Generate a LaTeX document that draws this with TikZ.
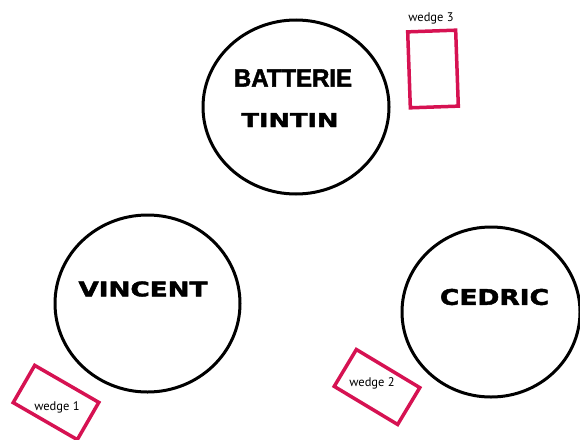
\documentclass[tikz,border=0pt]{standalone}
\usepackage{fontspec}
\usepackage{graphicx}
\usetikzlibrary{shapes.geometric}
\newfontfamily\wide{DejaVu Sans}[BoldFeatures={FakeBold=2}]
\newfontfamily\narrowb{Liberation Sans}[BoldFeatures={FakeBold=2}]
\newfontfamily\lbl{PT Sans}
\definecolor{wedgered}{RGB}{214,18,82}
\tikzset{
  ring/.style={draw=black, line width=3pt, ellipse, inner sep=0pt},
  wedgebox/.style={draw=wedgered, line width=3.5pt, rectangle, inner sep=0pt},
  nametext/.style={inner sep=0pt, text=black},
  wlabel/.style={inner sep=0pt, font=\lbl\fontsize{12.5}{14}\selectfont, text=black}
}
\begin{document}
\begin{tikzpicture}[x=1pt, y=-1pt]
\useasboundingbox[fill=white] (0,0) rectangle (580,439);
% circles
\node[ring, minimum width=186pt, minimum height=174pt] (bat) at (296,107) {};
\node[ring, minimum width=185pt, minimum height=177pt] (vin) at (147.5,303.5) {};
\node[ring, minimum width=178pt, minimum height=170pt] (ced) at (491,312) {};
% names
\node[nametext] (tbat) at (293,78) {\resizebox{118pt}{17pt}{\narrowb\bfseries BATTERIE}};
\node[nametext] (ttin) at (290,120) {\resizebox{97pt}{14pt}{\wide\bfseries TINTIN}};
\node[nametext] (tvin) at (143,289) {\resizebox{129pt}{15pt}{\wide\bfseries VINCENT}};
\node[nametext] (tced) at (494.5,297) {\resizebox{109pt}{16pt}{\wide\bfseries CEDRIC}};
% wedges
\node[wedgebox, minimum width=48pt, minimum height=76pt, rotate=2] (w3) at (433,69) {};
\node[wedgebox, minimum width=74pt, minimum height=43pt, rotate=-30] (w1) at (56,402.5) {};
\node[wedgebox, minimum width=74pt, minimum height=43pt, rotate=-31] (w2) at (377,387) {};
% wedge labels
\node[wlabel] (l3) at (431,18) {wedge 3};
\node[wlabel] (l1) at (57,407) {wedge 1};
\node[wlabel] (l2) at (372,383) {wedge 2};
\end{tikzpicture}
\end{document}
